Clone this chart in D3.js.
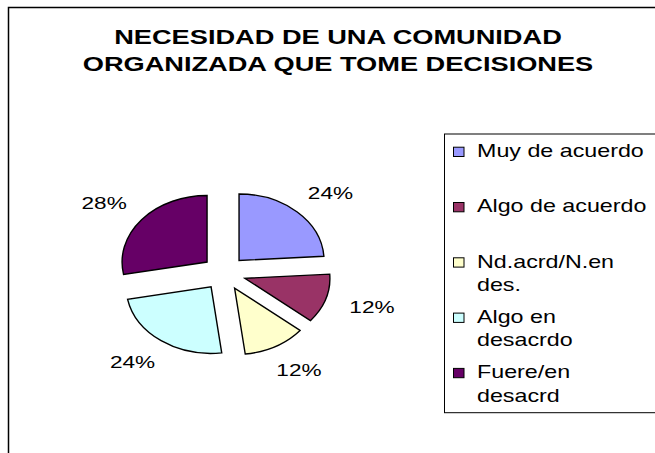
<!DOCTYPE html>
<meta charset="utf-8">
<style>
body { margin: 0; background: #fff; }
text { font-family: Arial, "Liberation Sans", sans-serif; fill: #000; }
</style>
<svg width="655" height="453"></svg>
<script src="https://d3js.org/d3.v7.min.js"></script>
<script>

var titleLines = ["NECESIDAD DE UNA COMUNIDAD", "ORGANIZADA QUE TOME DECISIONES"];
var categories = ["Muy de acuerdo", "Algo de acuerdo", "Nd.acrd/N.en des.", "Algo en desacrdo", "Fuere/en desacrd"];
var values = [24, 12, 12, 24, 28];
var colors = ["#9999ff", "#993366", "#ffffcc", "#ccffff", "#660066"];

var svg = d3.select("svg");

// the original chart is stretched sideways, text included
var stretch = 1.33;

// outer chart frame (runs off the right and bottom)
svg.append("rect")
  .attr("x", 8.5).attr("y", 7.5)
  .attr("width", 700).attr("height", 500)
  .attr("fill", "none").attr("stroke", "#000").attr("stroke-width", 1.5);

// title
svg.selectAll(".title").data(titleLines).join("text")
  .attr("class", "title")
  .attr("text-anchor", "middle")
  .attr("transform", function(d, i) { return "translate(338," + (43.5 + i * 27.5) + ") scale(1.36,1)"; })
  .style("font-size", "20px")
  .style("font-weight", "bold")
  .text(function(d) { return d; });

// pie
var cx = 224, cy = 273, r = 66.5, explode = 17.2, sx = 1.278;
var total = d3.sum(values);
var pct = d3.format(".0%");

var pie = d3.pie().sort(null).value(function(d) { return d; })(values);
var arc = d3.arc().innerRadius(0).outerRadius(r);

var g = svg.append("g").attr("transform", "translate(" + cx + "," + cy + ") scale(" + sx + ",1)");

function mid(d) { return (d.startAngle + d.endAngle) / 2; }

g.selectAll("path").data(pie).join("path")
  .attr("transform", function(d) {
    var m = mid(d);
    return "translate(" + (explode * Math.sin(m)) + "," + (-explode * Math.cos(m)) + ")";
  })
  .attr("d", arc)
  .attr("fill", function(d, i) { return colors[i]; })
  .attr("stroke", "#000")
  .attr("stroke-width", 1.4)
  .attr("vector-effect", "non-scaling-stroke");

// percent labels, pushed out of the slice like excel does
var labelR = 104, labelSize = 17;
var labels = svg.selectAll(".pct").data(pie).join("text")
  .attr("class", "pct")
  .attr("text-anchor", "middle")
  .style("font-size", labelSize + "px")
  .text(function(d) { return pct(d.value / total); });

labels.attr("transform", function(d) {
  var m = mid(d);
  var w = this.getComputedTextLength() * stretch, h = labelSize * 0.72;
  var x = cx + sx * labelR * Math.sin(m) + w / 2 * Math.sin(m);
  var y = cy - labelR * Math.cos(m) - h / 2 * Math.cos(m) + h / 2;
  return "translate(" + x + "," + y + ") scale(" + stretch + ",1)";
});

// legend
var legX = 444.5, legY = 134, legH = 278.7;
svg.append("rect")
  .attr("x", legX).attr("y", legY)
  .attr("width", 300).attr("height", legH)
  .attr("fill", "#fff").attr("stroke", "#000").attr("stroke-width", 1);

var legendSize = 17.5, rowStep = 55.3, lineStep = 23.4, firstBase = 157, maxW = 175;

var rows = svg.selectAll(".leg").data(categories).join("g")
  .attr("class", "leg")
  .attr("transform", function(d, i) { return "translate(0," + (firstBase + i * rowStep) + ")"; });

rows.append("rect")
  .attr("x", 453.5).attr("y", -9.8)
  .attr("width", 10.5).attr("height", 9.3)
  .attr("fill", function(d, i) { return colors[i]; })
  .attr("stroke", "#000").attr("stroke-width", 1);

rows.each(function(d) {
  var row = d3.select(this);
  var t = row.append("text")
    .attr("transform", "translate(477,0) scale(" + stretch + ",1)")
    .style("font-size", legendSize + "px")
    .text(d);
  // wrap to two lines when it does not fit
  if (t.node().getComputedTextLength() * stretch > maxW) {
    var words = d.split(" ");
    var last = words.pop();
    t.text(words.join(" "));
    row.append("text")
      .attr("transform", "translate(477," + lineStep + ") scale(" + stretch + ",1)")
      .style("font-size", legendSize + "px")
      .text(last);
  }
});

</script>
